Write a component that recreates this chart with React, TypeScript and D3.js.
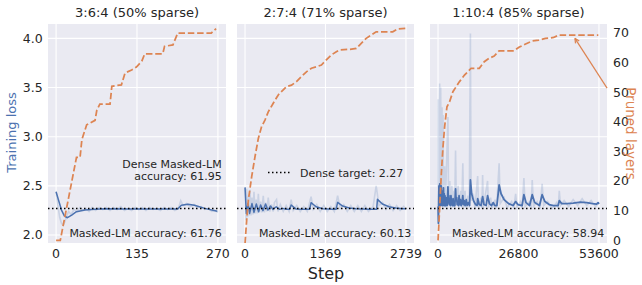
import React, { useEffect, useRef } from "react";
import * as d3 from "d3";

type Pt = [number, number];

const BLUE = "#4c72b0";
const ORANGE = "#dd8452";
const TEXT = "#262626";
const FONT = "DejaVu Sans, sans-serif";

const panelTitles = ["3:6:4 (50% sparse)", "2:7:4 (71% sparse)", "1:10:4 (85% sparse)"];
const maxSteps = [270, 2739, 53600];
const stepTicks = [
  [0, 135, 270],
  [0, 1369, 2739],
  [0, 26800, 53600],
];
const accuracyLabels = [
  "Masked-LM accuracy: 61.76",
  "Masked-LM accuracy: 60.13",
  "Masked-LM accuracy: 58.94",
];
const denseAccuracyLines = ["Dense Masked-LM", "accuracy: 61.95"];
const denseTarget = 2.27;
const denseTargetLabel = "Dense target: 2.27";
const lossTicks = [2.0, 2.5, 3.0, 3.5, 4.0];
const layerTicks = [0, 10, 20, 30, 40, 50, 60, 70];

// panel 1 (3:6:4)
const rawLoss1: Pt[] = [
  [0, 2.44], [3, 2.3], [6, 2.18], [9, 2.12], [12, 2.1], [15, 2.14], [18, 2.2], [21, 2.24],
  [25, 2.21], [30, 2.26], [35, 2.24], [40, 2.28], [45, 2.25], [50, 2.27], [55, 2.24], [60, 2.28],
  [66, 2.25], [72, 2.28], [78, 2.26], [84, 2.28], [90, 2.25], [96, 2.28], [102, 2.26], [108, 2.29],
  [114, 2.25], [120, 2.27], [126, 2.25], [132, 2.28], [138, 2.26], [144, 2.28], [150, 2.25],
  [156, 2.28], [162, 2.26], [168, 2.27], [174, 2.25], [180, 2.28], [186, 2.26], [192, 2.28],
  [198, 2.25], [204, 2.27], [208, 2.35], [212, 2.3], [218, 2.32], [224, 2.29], [230, 2.31],
  [236, 2.28], [242, 2.29], [248, 2.26], [254, 2.27], [260, 2.24], [265, 2.25], [270, 2.23],
];
const smoothLoss1: Pt[] = [
  [0, 2.44], [4, 2.356], [9, 2.254], [14, 2.193], [19, 2.176], [26, 2.203], [34, 2.237],
  [48, 2.254], [65, 2.261], [82, 2.268], [120, 2.266], [148, 2.265], [203, 2.264], [209, 2.302],
  [220, 2.312], [231, 2.302], [248, 2.271], [269, 2.241],
];
const pruned1: Pt[] = [
  [0, 0], [7, 0], [34, 28], [40, 28], [43, 34], [51, 39], [65, 40.5], [68, 44], [73, 46],
  [90, 46], [93, 52], [109, 52.5], [115, 56.5], [126, 57.5], [134, 58.5], [143, 60.5], [148, 63],
  [178, 63], [181, 65.5], [195, 66], [203, 70], [259, 70], [267, 71.5],
];

// panel 2 (2:7:4)
const rawLoss2: Pt[] = [
  [0, 2.48], [14, 2.15], [28, 2.47], [42, 2.18], [56, 2.4], [70, 2.2], [84, 2.46], [100, 2.2],
  [118, 2.38], [135, 2.21], [152, 2.44], [170, 2.22], [190, 2.36], [208, 2.22], [226, 2.42],
  [245, 2.23], [265, 2.34], [285, 2.23], [310, 2.4], [330, 2.23], [350, 2.33], [370, 2.24],
  [395, 2.38], [420, 2.24], [450, 2.31], [480, 2.24], [500, 2.33], [536, 2.36], [560, 2.24],
  [600, 2.31], [650, 2.24], [700, 2.3], [750, 2.24], [785, 2.36], [820, 2.25], [880, 2.3],
  [940, 2.24], [1000, 2.29], [1060, 2.24], [1124, 2.39], [1160, 2.26], [1220, 2.31], [1280, 2.24],
  [1340, 2.3], [1400, 2.24], [1460, 2.29], [1520, 2.24], [1576, 2.4], [1620, 2.27], [1680, 2.31],
  [1740, 2.24], [1800, 2.3], [1860, 2.24], [1920, 2.3], [1980, 2.24], [2040, 2.3], [2100, 2.24],
  [2180, 2.29], [2232, 2.5], [2280, 2.3], [2340, 2.33], [2400, 2.26], [2460, 2.31], [2520, 2.25],
  [2580, 2.3], [2640, 2.25], [2700, 2.29], [2739, 2.26],
];
const smoothLoss2: Pt[] = [
  [0, 2.485], [22, 2.22], [50, 2.32], [78, 2.22], [118, 2.32], [152, 2.23], [192, 2.315],
  [231, 2.237], [265, 2.305], [305, 2.248], [350, 2.315], [389, 2.254], [434, 2.295],
  [474, 2.261], [531, 2.288], [587, 2.261], [644, 2.271], [700, 2.261], [760, 2.262],
  [785, 2.305], [870, 2.264], [983, 2.261], [1100, 2.262], [1124, 2.329], [1209, 2.288],
  [1322, 2.268], [1491, 2.261], [1550, 2.262], [1576, 2.332], [1661, 2.295], [1773, 2.275],
  [1887, 2.268], [2112, 2.261], [2240, 2.262], [2254, 2.363], [2338, 2.315], [2451, 2.288],
  [2565, 2.275], [2677, 2.268], [2739, 2.268],
];
const pruned2: Pt[] = [
  [0, -1], [28, 6.9], [56, 13.6], [113, 21.5], [169, 28.2], [226, 34.4], [282, 38.4],
  [339, 40.6], [395, 43.4], [480, 46.3], [565, 49.1], [650, 50.8], [706, 51.9], [791, 52.4],
  [876, 53.6], [960, 55.3], [1045, 56.9], [1130, 58.1], [1215, 58.6], [1300, 59.2],
  [1384, 60.9], [1469, 62.6], [1554, 63.7], [1610, 64.3], [1780, 64.5], [1893, 64.8],
  [1978, 66.5], [2062, 68.2], [2147, 69.3], [2232, 70.4], [2514, 70.4], [2599, 71.4], [2739, 71.6],
];

// panel 3 (1:10:4)
const rawLoss3: Pt[] = [
  [0, 2.3], [60, 3.38], [150, 2.1], [350, 3.1], [550, 3.54], [700, 2.3], [880, 3.5],
  [1050, 2.35], [1320, 3.3], [1500, 2.3], [1650, 3.22], [1800, 2.3], [2200, 2.7], [2400, 2.28],
  [3300, 3.2], [3500, 2.32], [3900, 2.55], [4200, 2.28], [4600, 2.5], [4900, 2.28], [5300, 2.45],
  [5550, 2.28], [5830, 2.86], [6100, 2.3], [6700, 2.5], [7000, 2.28], [7600, 2.45], [7900, 2.28],
  [8250, 2.73], [8500, 2.28], [9000, 2.45], [9300, 2.28], [10000, 2.4], [10400, 2.28],
  [10780, 4.05], [11000, 2.35], [11800, 2.4], [12300, 2.27], [13200, 2.6], [13500, 2.28],
  [14300, 2.38], [14600, 2.27], [14850, 2.61], [15100, 2.28], [16500, 2.55], [16800, 2.28],
  [17500, 2.38], [18000, 2.27], [19000, 2.36], [19500, 2.27], [20350, 2.73], [20700, 2.32],
  [22000, 2.38], [23000, 2.28], [24500, 2.34], [25200, 2.27], [25850, 2.42], [26300, 2.28],
  [27500, 2.34], [28000, 2.27], [28600, 2.58], [29000, 2.29], [30500, 2.34], [31000, 2.27],
  [31370, 2.56], [31800, 2.29], [33000, 2.34], [34000, 2.27], [34670, 2.52], [35200, 2.3],
  [36500, 2.34], [38000, 2.27], [39500, 2.33], [40000, 2.27], [40390, 2.45], [40800, 2.3],
  [42000, 2.35], [43500, 2.29], [45000, 2.36], [46500, 2.3], [48000, 2.37], [49500, 2.3],
  [51000, 2.35], [52500, 2.29], [53600, 2.33],
];
const smoothLoss3: Pt[] = [
  [0, 2.29], [120, 2.12], [300, 2.5], [420, 2.3], [560, 2.52], [680, 2.31], [800, 2.47],
  [920, 2.3], [1050, 2.5], [1180, 2.31], [1300, 2.45], [1420, 2.3], [1550, 2.44], [1680, 2.3],
  [1800, 2.48], [1930, 2.31], [2050, 2.42], [2180, 2.3], [2300, 2.4], [2450, 2.3], [2600, 2.38],
  [2750, 2.3], [2900, 2.36], [3050, 2.3], [3300, 2.49], [3450, 2.33], [3600, 2.4], [3750, 2.31],
  [3900, 2.36], [4100, 2.3], [4300, 2.4], [4450, 2.31], [4600, 2.35], [4800, 2.3], [5000, 2.37],
  [5200, 2.3], [5400, 2.34], [5600, 2.3], [5830, 2.47], [6000, 2.35], [6200, 2.38], [6400, 2.31],
  [6600, 2.34], [6800, 2.3], [7000, 2.4], [7200, 2.31], [7450, 2.36], [7700, 2.3], [8000, 2.33],
  [8250, 2.4], [8450, 2.31], [8700, 2.35], [9000, 2.3], [9400, 2.36], [9700, 2.3], [10100, 2.33],
  [10500, 2.3], [10780, 2.56], [11200, 2.42], [11800, 2.35], [12500, 2.31],
  [13000, 2.3], [13200, 2.37], [13700, 2.31], [14300, 2.3], [14850, 2.39], [15300, 2.31],
  [16000, 2.3], [16500, 2.4], [17100, 2.32], [17800, 2.3], [18400, 2.33], [18900, 2.3],
  [19600, 2.3], [20350, 2.51], [21000, 2.42], [22000, 2.36], [23500, 2.32], [25000, 2.3],
  [25850, 2.34], [26600, 2.31], [28000, 2.3], [28600, 2.41], [29300, 2.33], [30500, 2.3],
  [31370, 2.41], [32200, 2.33], [33800, 2.3], [34670, 2.41], [35600, 2.34], [37000, 2.31],
  [38500, 2.3], [40000, 2.3], [40390, 2.35], [41200, 2.32], [43000, 2.32], [45000, 2.325],
  [47500, 2.335], [49500, 2.33], [51500, 2.32], [52800, 2.315], [53300, 2.33], [53600, 2.315],
];
const pruned3: Pt[] = [
  [0, 0], [550, 11.3], [1100, 22.6], [1650, 31.6], [2200, 38.4], [2970, 45.1], [3850, 46.8],
  [4950, 50.2], [6050, 51.9], [7150, 53.6], [8800, 55.8], [9900, 56.9], [11000, 58.1],
  [13750, 58.1], [15400, 60.3], [17050, 61.5], [18700, 62.2], [20350, 64], [25300, 64],
  [26950, 65.2], [29160, 66.3], [31370, 67.3], [33570, 67.6], [35780, 68.2], [38520, 68.5],
  [40170, 69.3], [53380, 69.3],
];
// annotation arrow in panel 3: [step, layers]
const arrowTip: Pt = [45600, 68.2];
const arrowTail: Pt = [56300, 51.4];

const rawSeries = [rawLoss1, rawLoss2, rawLoss3];
const smoothSeries = [smoothLoss1, smoothLoss2, smoothLoss3];
const prunedSeries = [pruned1, pruned2, pruned3];

const App: React.FC = () => {
  const svgRef = useRef<SVGSVGElement | null>(null);
  const width = 642;
  const height = 285;
  const top = 24;
  const bottom = 243;
  const panelX: [number, number][] = [
    [48, 226],
    [237, 414],
    [430, 607],
  ];

  useEffect(() => {
    const svg = d3.select(svgRef.current);
    svg.selectAll("*").remove();
    svg.style("font-family", FONT);

    const yLoss = d3.scaleLinear().domain([1.919, 4.146]).range([bottom, top]);
    const yLayers = d3.scaleLinear().domain([-0.9, 73.05]).range([bottom, top]);

    panelX.forEach(([x0, x1], i) => {
      const max = maxSteps[i];
      const x = d3.scaleLinear().domain([-0.05 * max, 1.05 * max]).range([x0, x1]);
      const g = svg.append("g");

      g.append("rect")
        .attr("x", x0)
        .attr("y", top)
        .attr("width", x1 - x0)
        .attr("height", bottom - top)
        .attr("fill", "#eaeaf2");

      const clipId = `clip-${i}`;
      svg
        .append("defs")
        .append("clipPath")
        .attr("id", clipId)
        .append("rect")
        .attr("x", x0)
        .attr("y", top)
        .attr("width", x1 - x0)
        .attr("height", bottom - top);

      // grid
      const xTicks = stepTicks[i];
      g.selectAll(".gx")
        .data(xTicks)
        .join("line")
        .attr("x1", (d) => x(d))
        .attr("x2", (d) => x(d))
        .attr("y1", top)
        .attr("y2", bottom)
        .attr("stroke", "#fff")
        .attr("stroke-width", 1.1);
      g.selectAll(".gy")
        .data(lossTicks)
        .join("line")
        .attr("x1", x0)
        .attr("x2", x1)
        .attr("y1", (d) => yLoss(d))
        .attr("y2", (d) => yLoss(d))
        .attr("stroke", "#fff")
        .attr("stroke-width", 1.1);

      // x tick labels
      g.selectAll(".xt")
        .data(xTicks)
        .join("text")
        .attr("x", (d) => x(d))
        .attr("y", 258)
        .attr("text-anchor", "middle")
        .attr("font-size", 12.5)
        .attr("fill", TEXT)
        .text((d) => String(d));

      // title
      g.append("text")
        .attr("x", (x0 + x1) / 2)
        .attr("y", 17)
        .attr("text-anchor", "middle")
        .attr("font-size", 13)
        .attr("fill", TEXT)
        .text(panelTitles[i]);

      const plot = g.append("g").attr("clip-path", `url(#${clipId})`);
      const lossLine = d3
        .line<Pt>()
        .x((d) => x(d[0]))
        .y((d) => yLoss(d[1]));
      const layerLine = d3
        .line<Pt>()
        .x((d) => x(d[0]))
        .y((d) => yLayers(d[1]));

      plot
        .append("path")
        .attr("d", lossLine(rawSeries[i]))
        .attr("fill", "none")
        .attr("stroke", BLUE)
        .attr("stroke-opacity", 0.2)
        .attr("stroke-width", 1.6);

      plot
        .append("path")
        .attr("d", lossLine(smoothSeries[i]))
        .attr("fill", "none")
        .attr("stroke", BLUE)
        .attr("stroke-width", i === 2 ? 1.8 : 1.5)
        .attr("stroke-linejoin", "round");

      plot
        .append("line")
        .attr("x1", x0)
        .attr("x2", x1)
        .attr("y1", yLoss(denseTarget))
        .attr("y2", yLoss(denseTarget))
        .attr("stroke", "#000")
        .attr("stroke-width", 1.5)
        .attr("stroke-dasharray", "1.5 2.5");

      // accuracy text
      g.append("text")
        .attr("x", x1 - (i === 0 ? 4.3 : 2.8))
        .attr("y", 236.5)
        .attr("text-anchor", "end")
        .attr("font-size", 11)
        .attr("fill", TEXT)
        .text(accuracyLabels[i]);

      if (i === 0) {
        denseAccuracyLines.forEach((t, k) => {
          g.append("text")
            .attr("x", x1 - 4.3)
            .attr("y", 167.5 + k * 12)
            .attr("text-anchor", "end")
            .attr("font-size", 11)
            .attr("fill", TEXT)
            .text(t);
        });
      }
      if (i === 1) {
        g.append("line")
          .attr("x1", 268)
          .attr("x2", 291)
          .attr("y1", 172.5)
          .attr("y2", 172.5)
          .attr("stroke", "#000")
          .attr("stroke-width", 1.5)
          .attr("stroke-dasharray", "1.5 2.5");
        g.append("text")
          .attr("x", 300)
          .attr("y", 176.5)
          .attr("font-size", 11)
          .attr("fill", TEXT)
          .text(denseTargetLabel);
      }

      plot
        .append("path")
        .attr("d", layerLine(prunedSeries[i]))
        .attr("fill", "none")
        .attr("stroke", ORANGE)
        .attr("stroke-width", 1.75)
        .attr("stroke-dasharray", "6.5 2.8");

      if (i === 2) {
        const tx = x(arrowTip[0]);
        const ty = yLayers(arrowTip[1]);
        const sx = x(arrowTail[0]);
        const sy = yLayers(arrowTail[1]);
        g.append("line")
          .attr("x1", sx)
          .attr("y1", sy)
          .attr("x2", tx)
          .attr("y2", ty)
          .attr("stroke", ORANGE)
          .attr("stroke-width", 1.2);
        const ang = Math.atan2(sy - ty, sx - tx);
        [-0.45, 0.45].forEach((da) => {
          g.append("line")
            .attr("x1", tx)
            .attr("y1", ty)
            .attr("x2", tx + 5 * Math.cos(ang + da))
            .attr("y2", ty + 5 * Math.sin(ang + da))
            .attr("stroke", ORANGE)
            .attr("stroke-width", 1.2);
        });

        // right axis ticks
        g.selectAll(".rt")
          .data(layerTicks)
          .join("text")
          .attr("x", 613)
          .attr("y", (d) => yLayers(d))
          .attr("dy", "0.35em")
          .attr("font-size", 12.5)
          .attr("fill", TEXT)
          .text((d) => String(d));
        g.append("text")
          .attr("transform", `translate(626, 133.5) rotate(90)`)
          .attr("text-anchor", "middle")
          .attr("font-size", 13.5)
          .attr("fill", ORANGE)
          .text("Pruned layers");
      }
    });

    // left axis
    svg
      .append("g")
      .selectAll("text")
      .data(lossTicks)
      .join("text")
      .attr("x", 42.7)
      .attr("y", (d) => yLoss(d))
      .attr("dy", "0.35em")
      .attr("text-anchor", "end")
      .attr("font-size", 12.5)
      .attr("fill", TEXT)
      .text((d) => d.toFixed(1));

    svg
      .append("text")
      .attr("transform", `translate(16, 132.5) rotate(-90)`)
      .attr("text-anchor", "middle")
      .attr("font-size", 13)
      .attr("fill", BLUE)
      .text("Training loss");

    svg
      .append("text")
      .attr("x", 326)
      .attr("y", 279)
      .attr("text-anchor", "middle")
      .attr("font-size", 16)
      .attr("fill", TEXT)
      .text("Step");
  }, []);

  return (
    <svg
      ref={svgRef}
      width={width}
      height={height}
      style={{ position: "absolute", left: 0, top: 0, background: "#fff" }}
    />
  );
};

export default App;
